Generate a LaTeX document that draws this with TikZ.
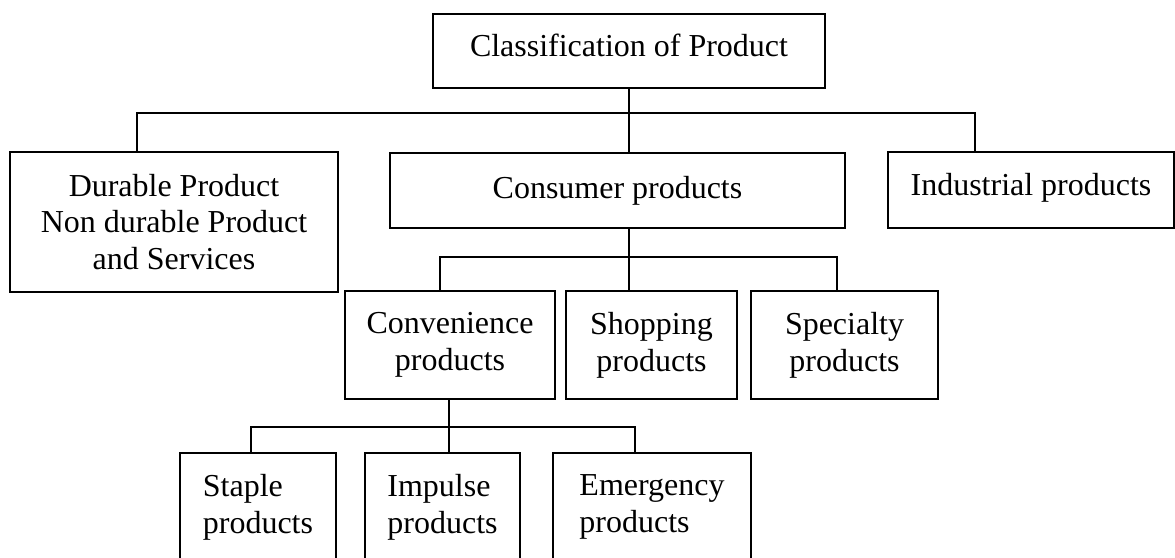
\documentclass[tikz,border=0pt]{standalone}
\usepackage{fontspec}
\setmainfont{Liberation Serif}

\begin{document}
\begin{tikzpicture}[box/.style={draw, line width=1.4pt, align=center, inner sep=2pt},
    link/.style={line width=1.4pt},
    font=\fontsize{18.2}{21}\selectfont]
    \useasboundingbox (0,0) rectangle (23.5,-11.14);
    % first level
    \node [box, minimum width=7.84cm, minimum height=1.48cm, text depth=0.22cm] (class) at (12.58,-1.02) {Classification of Product};
    \node [box, minimum width=6.56cm, minimum height=2.80cm] (durable) at (3.48,-4.44) {Durable Product\\Non durable Product\\and Services};
    \node [box, minimum width=9.10cm, minimum height=1.50cm] (consumer) at (12.35,-3.81) {Consumer products};
    \node [box, minimum width=5.72cm, minimum height=1.52cm, text depth=0.22cm] (industrial) at (20.62,-3.80) {Industrial products};
    % consumer products
    \node [box, minimum width=4.20cm, minimum height=2.16cm] (convenience) at (9.00,-6.90) {Convenience\\products};
    \node [box, minimum width=3.42cm, minimum height=2.16cm] (shopping) at (13.03,-6.90) {Shopping\\products};
    \node [box, minimum width=3.74cm, minimum height=2.16cm] (specialty) at (16.89,-6.90) {Specialty\\products};
    % convenience products (bottom edge runs off the page)
    \node [box, align=left, minimum width=3.12cm, minimum height=2.16cm] (staple) at (5.16,-10.14) {Staple\\products};
    \node [box, align=left, minimum width=3.10cm, minimum height=2.16cm] (impulse) at (8.85,-10.14) {Impulse\\products};
    \node [box, align=left, minimum width=3.96cm, minimum height=2.16cm] (emergency) at (13.04,-10.14) {Emergency\\products};

    % bus lines
    \coordinate (j1) at (12.58,-2.26);
    \coordinate (l1) at (2.74,-2.26);
    \coordinate (r1) at (19.50,-2.26);
    \draw [link] (class) -- (j1) -- (j1 |- consumer.north);
    \draw [link] (durable.north -| l1) -- (l1) -- (r1) -- (industrial.north -| r1);

    \coordinate (j2) at (12.58,-5.14);
    \coordinate (l2) at (8.80,-5.14);
    \coordinate (r2) at (16.74,-5.14);
    \draw [link] (j2 |- consumer.south) -- (j2 |- shopping.north);
    \draw [link] (convenience.north -| l2) -- (l2) -- (r2) -- (specialty.north -| r2);

    \coordinate (j3) at (8.98,-8.54);
    \coordinate (l3) at (5.02,-8.54);
    \coordinate (r3) at (12.70,-8.54);
    \draw [link] (j3 |- convenience.south) -- (j3 |- impulse.north);
    \draw [link] (staple.north -| l3) -- (l3) -- (r3) -- (emergency.north -| r3);
\end{tikzpicture}
\end{document}
